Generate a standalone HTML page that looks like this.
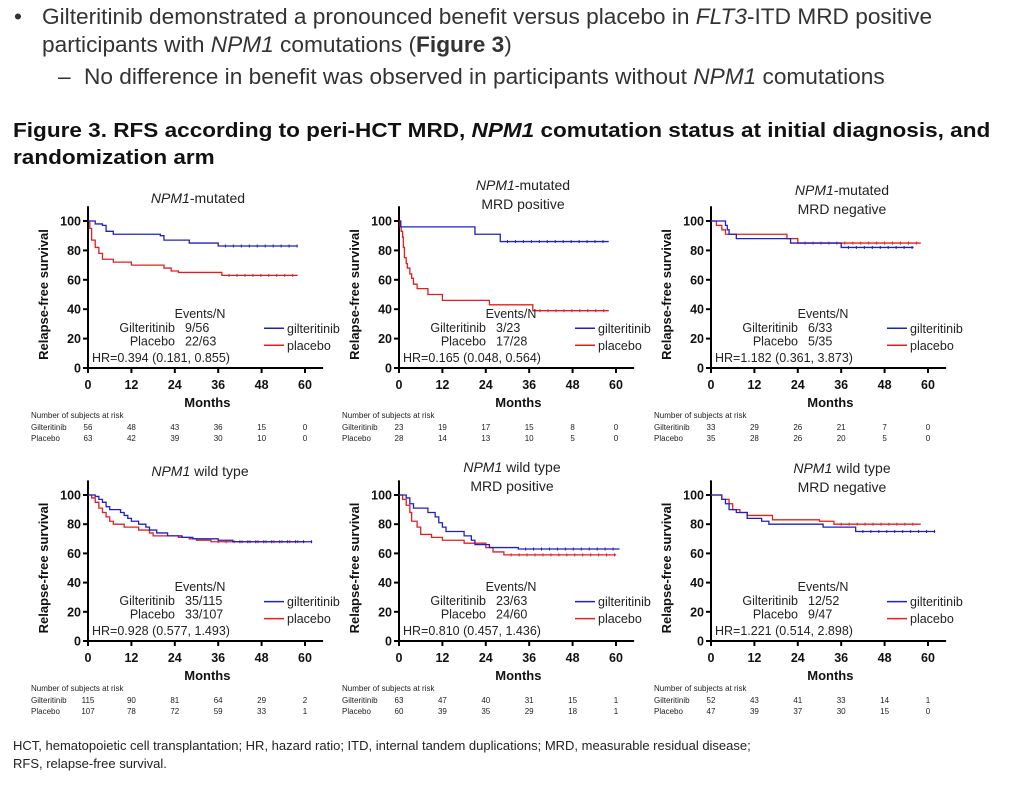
<!DOCTYPE html>
<html><head><meta charset="utf-8">
<style>
body{margin:0;width:1012px;height:786px;background:#fff;font-family:"Liberation Sans",Arial,sans-serif;position:relative;overflow:hidden;color:#222}
.t{position:absolute;white-space:nowrap;transform-origin:0 0}
.b{font-size:22px;color:#333;transform:scaleX(1.03)}
.h{font-size:20.5px;font-weight:bold;color:#111;transform:scaleX(1.1)}
.f{font-size:13px;color:#222}
svg{position:absolute;left:0;top:0}
</style></head><body>
<div class="t b" style="left:14px;top:4px">•</div>
<div class="t b" style="left:42px;top:4px">Gilteritinib demonstrated a pronounced benefit versus placebo in <i>FLT3</i>-ITD MRD positive</div>
<div class="t b" style="left:42px;top:32px">participants with <i>NPM1</i> comutations (<b>Figure 3</b>)</div>
<div class="t b" style="left:58px;top:64px">–</div>
<div class="t b" style="left:84px;top:64px">No difference in benefit was observed in participants without <i>NPM1</i> comutations</div>
<div class="t h" style="left:13px;top:119px">Figure 3. RFS according to peri-HCT MRD, <i>NPM1</i> comutation status at initial diagnosis, and</div>
<div class="t h" style="left:13px;top:146px">randomization arm</div>
<div class="t f" style="left:13px;top:738px">HCT, hematopoietic cell transplantation; HR, hazard ratio; ITD, internal tandem duplications; MRD, measurable residual disease;</div>
<div class="t f" style="left:13px;top:756px">RFS, relapse-free survival.</div>
<svg id="s" width="1012" height="786"></svg>
<script>
// ---- data (time months, survival %) ----
const xTicks=[0,12,24,36,48,60];
const yTicks=[0,20,40,60,80,100];
const p1GiltT=[0,2,4,5,7,20,21,28,36,58], p1GiltS=[100,98,97,93,91,90,87,85,83,83];
const p1PlaT=[0,0.5,1,2,3,4,7,12,21,23,25,37,58], p1PlaS=[100,95,87,82,78,74,72,70,68,66,65,63,63];
const p2GiltT=[0,0.5,21,28,58], p2GiltS=[100,96,91,86,86];
const p2PlaT=[0,0.3,0.6,1,1.2,1.5,2,2.3,3,3.5,4,5,8,12,25,37,58], p2PlaS=[100,96,93,89,82,75,71,68,64,61,57,54,50,46,43,39,39];
const p3GiltT=[0,4,4.5,5,7,22,36,56], p3GiltS=[100,97,94,91,88,85,82,82];
const p3PlaT=[0,1.5,3,4,21,24,58], p3PlaS=[100,97,94,91,88,85,85];
const p4GiltT=[0,2,3,4,5,6,9,10,11,12,14,16,17,19,22,26,29,36,40,62], p4GiltS=[100,99,97,95,92,90,88,86,84,82,80,78,76,74,72,71,70,69,68,68];
const p4PlaT=[0,1,2,3,4,5,6,7,10,14,17,18,25,28,30,34,60], p4PlaS=[100,98,95,91,88,85,82,80,78,76,74,72,71,70,69,68,68];
const p5GiltT=[0,2,3,4,8,10,11,12,13,18,20,21,25,33,61], p5GiltS=[100,98,94,91,88,85,81,78,75,72,69,66,64,63,63];
const p5PlaT=[0,1,2,3,3.5,5,6,9,12,18,24,26,29,60], p5PlaS=[100,97,93,88,82,78,73,71,69,67,64,61,59,59];
const p6GiltT=[0,2,3,4,5,7,10,14,16,31,40,62], p6GiltS=[100,100,97,94,90,88,84,82,80,78,75,75];
const p6PlaT=[0,2,3,5,6,8,10,17,30,34,58], p6PlaS=[100,100,97,94,90,88,86,83,82,80,80];
const p1Risk=[[56,48,43,36,15,0],[63,42,39,30,10,0]];
const p2Risk=[[23,19,17,15,8,0],[28,14,13,10,5,0]];
const p3Risk=[[33,29,26,21,7,0],[35,28,26,20,5,0]];
const p4Risk=[[115,90,81,64,29,2],[107,78,72,59,33,1]];
const p5Risk=[[63,47,40,31,15,1],[60,39,35,29,18,1]];
const p6Risk=[[52,43,41,33,14,1],[47,39,37,30,15,0]];
const p1Events=["9/56","22/63"],p2Events=["3/23","17/28"],p3Events=["6/33","5/35"],p4Events=["35/115","33/107"],p5Events=["23/63","24/60"],p6Events=["12/52","9/47"];
const hrs=["HR=0.394 (0.181, 0.855)","HR=0.165 (0.048, 0.564)","HR=1.182 (0.361, 3.873)","HR=0.928 (0.577, 1.493)","HR=0.810 (0.457, 1.436)","HR=1.221 (0.514, 2.898)"];
const titles=[["NPM1|-mutated"],["NPM1|-mutated","MRD positive"],["NPM1|-mutated","MRD negative"],["NPM1| wild type"],["NPM1| wild type","MRD positive"],["NPM1| wild type","MRD negative"]];
const titleY=[203,190,195,476,472,473];

const NS="http://www.w3.org/2000/svg", svg=document.getElementById('s');
function mk(tag,attrs,parent,txt){const e=document.createElementNS(NS,tag);for(const k in attrs)e.setAttribute(k,attrs[k]);if(txt!=null)e.textContent=txt;(parent||svg).appendChild(e);return e;}
const panels=[
 {x0:88,y0:368,h:147,g:[p1GiltT,p1GiltS],p:[p1PlaT,p1PlaS],r:p1Risk,e:p1Events},
 {x0:399,y0:368,h:147,g:[p2GiltT,p2GiltS],p:[p2PlaT,p2PlaS],r:p2Risk,e:p2Events},
 {x0:711,y0:368,h:147,g:[p3GiltT,p3GiltS],p:[p3PlaT,p3PlaS],r:p3Risk,e:p3Events},
 {x0:88,y0:641,h:146,g:[p4GiltT,p4GiltS],p:[p4PlaT,p4PlaS],r:p4Risk,e:p4Events},
 {x0:399,y0:641,h:146,g:[p5GiltT,p5GiltS],p:[p5PlaT,p5PlaS],r:p5Risk,e:p5Events},
 {x0:711,y0:641,h:146,g:[p6GiltT,p6GiltS],p:[p6PlaT,p6PlaS],r:p6Risk,e:p6Events}];
const W=217;
panels.forEach((P,i)=>{
 const X=t=>P.x0+t/60*W, Y=v=>P.y0-v/100*P.h;
 const g=mk('g',{});
 
 
 const tl=titles[i], tcx=[198,523,842,200,512,842][i], ty=titleY[i];
 tl.forEach((line,j)=>{
  const t=mk('text',{x:tcx,y:ty+j*19,'text-anchor':'middle','font-size':14,fill:'#222'},g);
  
  
  const parts=line.split('|');
  if(parts.length>1){mk('tspan',{'font-style':'italic'},t,parts[0]);mk('tspan',{},t,parts[1]);}else t.textContent=line;
 });
 const ya=mk('line',{x1:P.x0,x2:P.x0,y1:Y(110),y2:P.y0,stroke:'#000','stroke-width':2},g);
 
 
 const xa=mk('line',{x1:P.x0,x2:X(65),y1:P.y0,y2:P.y0,stroke:'#000','stroke-width':2},g);
 
 
 yTicks.forEach(v=>{
  mk('line',{x1:P.x0-5,x2:P.x0,y1:Y(v),y2:Y(v),stroke:'#000','stroke-width':2},g);
  const t=mk('text',{x:P.x0-7,y:Y(v)+4.5,'text-anchor':'end','font-size':12.5,'font-weight':'bold',fill:'#111'},g,v);
  
  
 });
 xTicks.forEach(v=>{
  mk('line',{x1:X(v),x2:X(v),y1:P.y0,y2:P.y0+5,stroke:'#000','stroke-width':2},g);
  const t=mk('text',{x:X(v),y:P.y0+21,'text-anchor':'middle','font-size':12.5,'font-weight':'bold',fill:'#111'},g,v);
  
  
 });
 const xt=mk('text',{x:X(33),y:P.y0+39,'text-anchor':'middle','font-size':13,'font-weight':'bold',fill:'#111'},g,'Months');
 
 
 const ycx=P.x0-40, ycy=Y(50);
 const yt=mk('text',{x:ycx,y:ycy,transform:`rotate(-90 ${ycx} ${ycy})`,'text-anchor':'middle','font-size':13,'font-weight':'bold',fill:'#111'},g,'Relapse-free survival');
 
 
 [[P.p,'#e02020','placebo'],[P.g,'#2020c0','gilteritinib']].forEach(([d,c,n])=>{
  const T=d[0],S=d[1];let s=`M${X(T[0])},${Y(S[0])}`;
  for(let k=1;k<T.length;k++){s+=`H${X(T[k])}V${Y(S[k])}`;}
  const pa=mk('path',{d:s,fill:'none',stroke:c,'stroke-width':1.3},g);
  
  
  const last=T.length-1, t0=T[last-1];
  for(let t=t0+2;t<T[last];t+=2.2){mk('line',{x1:X(t),x2:X(t),y1:Y(S[last])-1.5,y2:Y(S[last])+1.5,stroke:c,'stroke-width':1},g);}
 });
 const ev=mk('text',{x:P.x0+112,y:P.y0-50,'text-anchor':'middle','font-size':12.5,fill:'#222'},g,'Events/N');
 
 
 [['Gilteritinib',P.e[0]],['Placebo',P.e[1]]].forEach(([lab,val],j)=>{
  const yy=P.y0-36+j*13.5;
  mk('text',{x:P.x0+87,y:yy,'text-anchor':'end','font-size':12.5,fill:'#222'},g,lab);
  mk('text',{x:P.x0+97,y:yy,'font-size':12.5,fill:'#222'},g,val);
 });
 const hr=mk('text',{x:P.x0+4,y:P.y0-6,'font-size':12.5,fill:'#222'},g,hrs[i]);
 
 
 [['gilteritinib','#2020c0'],['placebo','#e02020']].forEach(([lab,c],j)=>{
  const ly=P.y0-P.h*0.27+j*17;
  mk('line',{x1:P.x0+176,x2:P.x0+196,y1:ly,y2:ly,stroke:c,'stroke-width':1.5},g);
  const t=mk('text',{x:P.x0+199,y:ly+4.5,'font-size':12.5,fill:'#222'},g,lab);
  
  
 });
 const ry=P.y0+50;
 const rh=mk('text',{x:P.x0-57,y:ry,'font-size':8,fill:'#222'},g,'Number of subjects at risk');
 
 
 ['Gilteritinib','Placebo'].forEach((lab,j)=>{
  const yy=ry+12+j*11;
  mk('text',{x:P.x0-57,y:yy,'font-size':8,fill:'#222'},g,lab);
  P.r[j].forEach((v,k)=>{mk('text',{x:X(xTicks[k]),y:yy,'text-anchor':'middle','font-size':8,fill:'#222'},g,v);});
 });
});
</script>
</body></html>
